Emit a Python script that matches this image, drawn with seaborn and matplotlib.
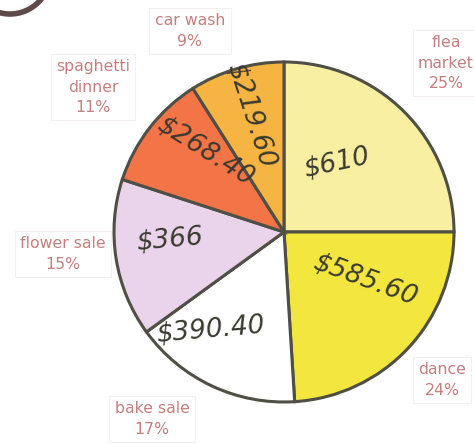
import matplotlib
matplotlib.use("Agg")
import matplotlib.pyplot as plt
import seaborn as sns
from matplotlib.patches import Circle

# fundraiser money by event
events = ["flea market", "dance", "bake sale", "flower sale", "spaghetti dinner", "car wash"]
amounts = [610, 585.60, 390.40, 366, 268.40, 219.60]
pct_labels = ["flea\nmarket\n25%", "dance\n24%", "bake sale\n17%", "flower sale\n15%",
              "spaghetti\ndinner\n11%", "car wash\n9%"]
money_labels = ["$610", "$585.60", "$390.40", "$366", "$268.40", "$219.60"]
colors = ["#f8efa2", "#f3e63e", "#ffffff", "#ead4ec", "#f37446", "#f6b443"]

sns.set_theme(style="white")
plt.rcParams['font.family'] = ['DejaVu Sans']

fig = plt.figure(figsize=(4.74, 4.44), dpi=100)
ax = fig.add_axes([0, 0, 1, 1])

cx, cy, r = 284, 444 - 232, 170
ax.pie(amounts, colors=colors, startangle=90, counterclock=False,
       center=(cx, cy), radius=r, frame=True,
       wedgeprops=dict(edgecolor="#4f4f45", linewidth=2.2))
ax.set_xlim(0, 474)
ax.set_ylim(0, 444)
ax.axis("off")

# decoration arc at top-left corner
ax.add_patch(Circle((10, 470), 40, fill=False, edgecolor="#5e4a48", linewidth=4))

# outer category labels (pixel positions from the top)
label_pos = [(446, 63), (442, 380), (152, 419), (63, 254), (93, 87), (190, 31)]
for txt, (x, y) in zip(pct_labels, label_pos):
    ax.text(x, 444 - y, txt, ha="center", va="center", fontsize=11.3,
            color="#c47f7f", linespacing=1.45,
            bbox=dict(boxstyle="square,pad=0.35", facecolor="white",
                      edgecolor="#f4f0f0", linewidth=0.8))

# handwritten amounts inside the slices
money_pos = [(337, 163, 12), (365, 280, -20), (210, 330, 5), (170, 240, 5),
             (205, 152, -32), (250, 115, -72)]
for txt, (x, y, rot) in zip(money_labels, money_pos):
    ax.text(x, 444 - y, txt, ha="center", va="center", fontsize=19,
            fontstyle="italic", color="#3a3a30", rotation=rot)

fig.savefig("out.png", dpi=100)
